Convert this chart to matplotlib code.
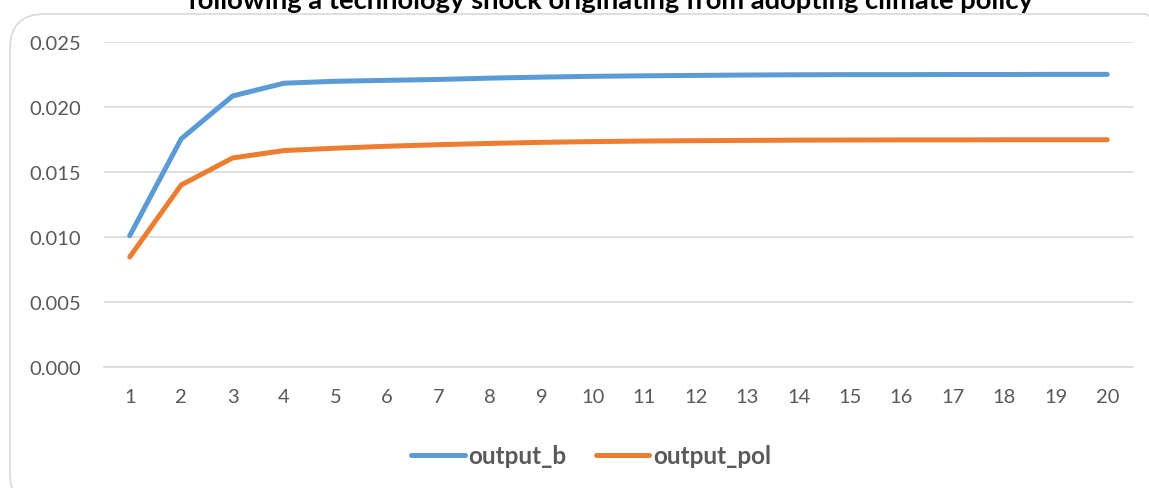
import matplotlib.pyplot as plt
from matplotlib.patches import FancyBboxPatch

# periods and impulse responses
periods = list(range(1, 21))
output_b = [0.0101, 0.01755, 0.02085, 0.02183, 0.02198, 0.02205, 0.02212, 0.02222,
            0.02230, 0.02236, 0.02240, 0.02243, 0.02246, 0.02248, 0.02249, 0.02249,
            0.02250, 0.02250, 0.02251, 0.02251]
output_pol = [0.00846, 0.0140, 0.01608, 0.01665, 0.01683, 0.01698, 0.01710, 0.01720,
              0.01728, 0.01734, 0.01738, 0.01741, 0.01743, 0.01745, 0.01746, 0.01747,
              0.01747, 0.01748, 0.01748, 0.01748]
yticks = [0.000, 0.005, 0.010, 0.015, 0.020, 0.025]

title = "following a technology shock originating from adopting climate policy"

plt.rcParams['font.family'] = ['Lato', 'DejaVu Sans']

W, H = 1149, 489
fig = plt.figure(figsize=(W / 100, H / 100), dpi=100)

# rounded chart border (Excel style)
border = FancyBboxPatch((10 / W, -20 / H), (W + 20) / W, (H - 15 + 20) / H,
                        boxstyle="round,pad=0,rounding_size=0.03",
                        transform=fig.transFigure, facecolor='none',
                        edgecolor='#d9d9d9', linewidth=1.2, mutation_aspect=W / H,
                        zorder=-1)
fig.patches.append(border)

ax = fig.add_axes([104 / W, (H - 368) / H, (1133 - 104) / W, (368 - 43) / H])
ax.set_facecolor('none')

ax.plot(periods, output_b, color='#5b9bd5', lw=3.6, solid_capstyle='round', label='output_b')
ax.plot(periods, output_pol, color='#ed7d31', lw=3.6, solid_capstyle='round', label='output_pol')

ax.set_xlim(0.5, 20.5)
ax.set_ylim(0, 0.025)
ax.set_xticks(periods)
ax.set_xticklabels([str(p) for p in periods])
ax.set_yticks(yticks)
ax.set_yticklabels([f"{v:.3f}" for v in yticks])
ax.grid(axis='y', color='#d9d9d9', lw=1.2)
ax.set_axisbelow(True)
for s in ['top', 'right', 'left']:
    ax.spines[s].set_visible(False)
ax.spines['bottom'].set_color('#d9d9d9')
ax.spines['bottom'].set_linewidth(1.2)
ax.tick_params(axis='both', length=0, labelsize=14.5, colors='#595959')
ax.tick_params(axis='x', pad=15)
ax.tick_params(axis='y', pad=16.5)

leg = ax.legend(loc='center', bbox_to_anchor=((591 - 104) / 1029, -89 / 325), ncol=2,
                frameon=False, handlelength=2.2, handletextpad=0.15, columnspacing=1.2,
                prop={'weight': 'bold', 'size': 17.5})
for t in leg.get_texts():
    t.set_color('#595959')

fig.text(610 / W, 1 - 9 / H, title, ha='center', va='baseline', fontsize=19.7,
         fontweight='bold', color='black')

fig.savefig('out.png', dpi=100)
